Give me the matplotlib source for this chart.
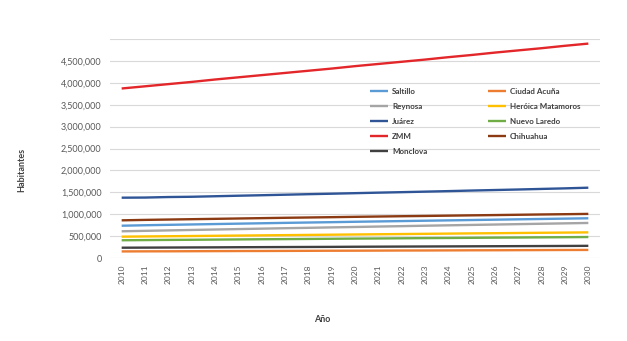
import matplotlib
matplotlib.use("Agg")
import matplotlib.pyplot as plt
from matplotlib.ticker import FuncFormatter, MultipleLocator

years = list(range(2010, 2031))
series_names = ["Saltillo", "Ciudad Acuña", "Reynosa", "Heróica Matamoros", "Juárez",
                "Nuevo Laredo", "ZMM", "Chihuahua", "Monclova"]
saltillo = [737000, 748000, 757000, 766000, 775000, 784000, 793000, 802000, 810000, 818000, 827000,
            835000, 843000, 851000, 859000, 867000, 875000, 883000, 891000, 899000, 907000]
acuna = [150000, 152000, 153000, 155000, 157000, 159000, 160000, 162000, 164000, 166000, 167000,
         169000, 171000, 172000, 174000, 176000, 177000, 179000, 181000, 183000, 184000]
reynosa = [610000, 620000, 630000, 640000, 650000, 660000, 670000, 680000, 689000, 699000, 708000,
           718000, 727000, 737000, 746000, 755000, 764000, 773000, 782000, 791000, 800000]
matamoros = [487000, 492000, 497000, 502000, 507000, 512000, 517000, 522000, 527000, 532000, 537000,
             542000, 547000, 552000, 557000, 562000, 566000, 571000, 576000, 580000, 585000]
juarez = [1377000, 1380000, 1392000, 1398000, 1410000, 1422000, 1433000, 1445000, 1457000, 1468000, 1480000,
          1492000, 1503000, 1515000, 1527000, 1540000, 1552000, 1564000, 1577000, 1590000, 1605000]
nuevo_laredo = [405000, 409000, 413000, 416000, 420000, 424000, 428000, 431000, 435000, 439000, 443000,
                446000, 450000, 454000, 457000, 461000, 465000, 468000, 472000, 475000, 479000]
zmm = [3870000, 3920000, 3970000, 4020000, 4075000, 4125000, 4175000, 4225000, 4275000, 4325000, 4380000,
       4430000, 4480000, 4530000, 4585000, 4635000, 4690000, 4740000, 4790000, 4845000, 4895000]
chihuahua = [860000, 870000, 878000, 886000, 894000, 902000, 910000, 918000, 925000, 932000, 940000,
             947000, 954000, 960000, 967000, 974000, 980000, 987000, 994000, 1000000, 1007000]
monclova = [235000, 237000, 239000, 241000, 243000, 246000, 248000, 250000, 252000, 254000, 257000,
            259000, 261000, 263000, 265000, 267000, 269000, 271000, 273000, 275000, 278000]
all_series = [saltillo, acuna, reynosa, matamoros, juarez, nuevo_laredo, zmm, chihuahua, monclova]
colors = ["#5B9BD5", "#ED7D31", "#A5A5A5", "#FFC000", "#2F5597",
          "#70AD47", "#E3262A", "#8B3A12", "#404040"]

plt.rcParams['font.family'] = ['Lato', 'DejaVu Sans']

fig = plt.figure(figsize=(6.27, 3.41), dpi=100)
ax = fig.add_axes([110/627, 1-258/341, 490/627, 219/341])

lines = {}
for name, vals, c in zip(series_names, all_series, colors):
    ln, = ax.plot(years, vals, color=c, lw=1.7, solid_capstyle='butt')
    lines[name] = ln

ax.set_xlim(2009.5, 2030.5)
ax.set_ylim(0, 5000000)
ax.yaxis.set_major_locator(MultipleLocator(500000))
ax.yaxis.set_major_formatter(FuncFormatter(lambda v, p: "" if v >= 5000000 else ("0" if v == 0 else f"{int(v):,}")))
ax.set_xticks(years)
ax.set_xticklabels([str(y) for y in years], rotation=90, fontsize=6, color="#595959")
ax.tick_params(axis='y', labelsize=6.5, colors="#595959", length=0, pad=6)
ax.tick_params(axis='x', length=0, pad=5)
ax.grid(axis='y', color="#D9D9D9", lw=0.8)
ax.set_axisbelow(True)
for s in ax.spines.values():
    s.set_visible(False)

fig.text(22/627, 1-170/341, "Habitantes", rotation=90, ha='center', va='center',
         fontsize=6.5, fontweight='bold', color="#404040")
fig.text(322/627, 1-320/341, "Año", ha='center', va='center',
         fontsize=6.5, fontweight='bold', color="#404040")

order = ["Saltillo", "Reynosa", "Juárez", "ZMM", "Monclova",
         "Ciudad Acuña", "Heróica Matamoros", "Nuevo Laredo", "Chihuahua"]
leg = fig.legend([lines[n] for n in order], order, loc='upper left',
                 bbox_to_anchor=(363/627, 1-81/341), ncol=2, frameon=False,
                 prop={'size': 5.8, 'weight': 'bold'}, labelcolor="#404040",
                 handlelength=2.2, handletextpad=0.5, columnspacing=7.6,
                 labelspacing=0.98)

fig.savefig("out.png", dpi=100)
